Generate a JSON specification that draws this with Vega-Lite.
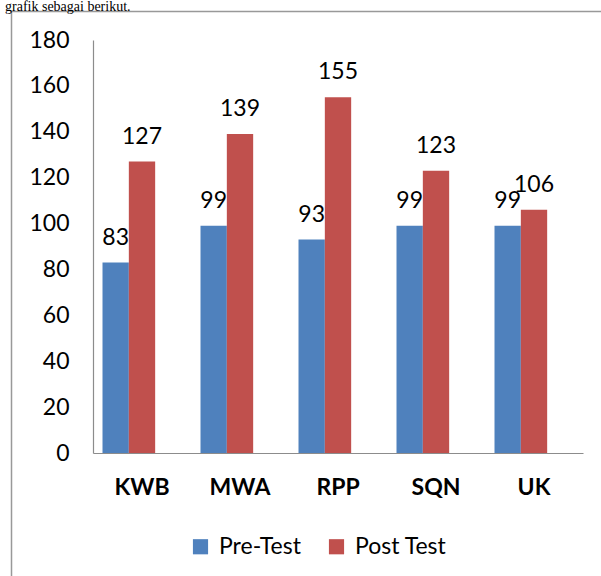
{
  "$schema": "https://vega.github.io/schema/vega-lite/v6.json",
  "autosize": {"type": "none"},
  "width": 490,
  "height": 413,
  "padding": {"left": 93, "top": 40, "right": 18, "bottom": 123},
  "background": "white",
  "config": {"view": {"stroke": null}, "font": "Lato"},
  "title": {
    "text": "grafik sebagai berikut.",
    "font": "Liberation Serif",
    "fontSize": 14,
    "fontWeight": "normal",
    "color": "black",
    "anchor": "start",
    "frame": "group",
    "baseline": "alphabetic",
    "offset": 2,
    "dx": -88,
    "dy": 16
  },
  "data": {
    "values": [
      {"cat": "KWB", "series": "Pre-Test", "value": 83},
      {"cat": "KWB", "series": "Post Test", "value": 127},
      {"cat": "MWA", "series": "Pre-Test", "value": 99},
      {"cat": "MWA", "series": "Post Test", "value": 139},
      {"cat": "RPP", "series": "Pre-Test", "value": 93},
      {"cat": "RPP", "series": "Post Test", "value": 155},
      {"cat": "SQN", "series": "Pre-Test", "value": 99},
      {"cat": "SQN", "series": "Post Test", "value": 123},
      {"cat": "UK", "series": "Pre-Test", "value": 99},
      {"cat": "UK", "series": "Post Test", "value": 106}
    ]
  },
  "layer": [
    {
      "encoding": {
        "x": {
          "field": "cat", "type": "nominal", "sort": null,
          "scale": {"paddingInner": 0.194, "paddingOuter": 0.097},
          "axis": {
            "title": null, "labelAngle": 0, "ticks": false,
            "domainColor": "#8c8c8c", "domainWidth": 1.2,
            "labelFont": "Lato", "labelFontWeight": "bold", "labelFontSize": 23,
            "labelColor": "black", "labelPadding": 23
          }
        },
        "xOffset": {
          "field": "series", "type": "nominal",
          "scale": {"domain": ["Pre-Test", "Post Test", "_hidden"], "paddingInner": 0, "paddingOuter": 0}
        },
        "y": {
          "field": "value", "type": "quantitative",
          "scale": {"domain": [0, 180], "nice": false},
          "axis": {
            "title": null, "values": [0, 20, 40, 60, 80, 100, 120, 140, 160, 180],
            "grid": false, "ticks": false, "domainColor": "#8c8c8c", "domainWidth": 1.2,
            "labelFont": "Lato", "labelFontSize": 23, "labelColor": "black", "labelPadding": 24
          }
        }
      },
      "layer": [
        {
          "mark": {"type": "bar"},
          "encoding": {
            "color": {
              "field": "series", "type": "nominal",
              "scale": {"domain": ["Pre-Test", "Post Test"], "range": ["#4F81BD", "#C0504D"]},
              "legend": {
                "title": null, "orient": "none", "legendX": 96, "legendY": 495,
                "direction": "horizontal", "symbolType": "square", "symbolSize": 230,
                "symbolStrokeWidth": 0, "labelFont": "Lato", "labelFontSize": 23, "labelColor": "black",
                "labelOffset": 7, "columnPadding": 24
              }
            }
          }
        },
        {
          "mark": {"type": "text", "baseline": "alphabetic", "dy": -18, "fontSize": 23, "font": "Lato", "color": "black"},
          "encoding": {"text": {"field": "value", "type": "quantitative"}}
        }
      ]
    },
    {
      "mark": {"type": "point", "opacity": 0},
      "encoding": {
        "x": {
          "field": "value", "type": "quantitative",
          "scale": {"range": [-83, 508]},
          "axis": {"orient": "top", "offset": 29, "title": null, "labels": false, "ticks": false, "grid": false, "domainColor": "#999999", "domainWidth": 1.5}
        },
        "y": {
          "field": "value", "type": "quantitative",
          "scale": {"range": [536, -29]},
          "axis": {"orient": "left", "offset": 82, "title": null, "labels": false, "ticks": false, "grid": false, "domainColor": "#999999", "domainWidth": 1.5}
        }
      }
    }
  ],
  "resolve": {"scale": {"x": "independent", "y": "independent"}}
}
